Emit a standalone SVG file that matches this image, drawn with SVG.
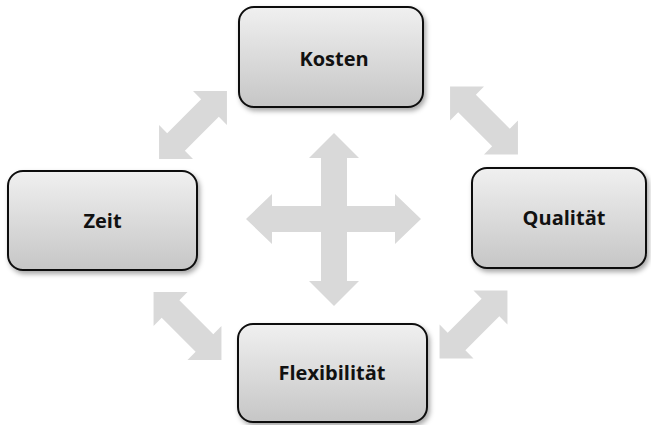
<svg xmlns="http://www.w3.org/2000/svg" width="651" height="425" viewBox="0 0 651 425">
  <style>
    .arrow { fill: #d9d9d9; }
    .box { fill: url(#boxFill); stroke: #111; stroke-width: 2; filter: url(#shadow); }
    .label { font-family: "Open Sans", "Liberation Sans", sans-serif; font-weight: 700; font-size: 20px; fill: #111; text-anchor: middle; }
  </style>
  <defs>
    <linearGradient id="boxFill" x1="0" y1="0" x2="0" y2="1">
      <stop offset="0" stop-color="#f0f0f0"/>
      <stop offset="1" stop-color="#c6c6c6"/>
    </linearGradient>
    <filter id="shadow" x="-10%" y="-10%" width="125%" height="130%">
      <feDropShadow dx="2" dy="3" stdDeviation="2.5" flood-color="#000" flood-opacity="0.35"/>
    </filter>
    <!-- double-headed block arrow, drawn along the x axis -->
    <path id="dblArrow" d="M-48,0 L-24,-24 L-24,-12.5 L24,-12.5 L24,-24 L48,0 L24,24 L24,12.5 L-24,12.5 L-24,24 Z"/>
  </defs>

  <g id="connectors">
    <!-- four-way cross in the middle -->
    <path class="arrow" d="M334,133 L359,158 L347,158 L347,206 L395,206 L395,194 L421,219 L395,244 L395,232 L347,232 L347,281 L359,281 L334,306 L309,281 L321,281 L321,232 L272,232 L272,244 L246,219 L272,194 L272,206 L321,206 L321,158 L309,158 Z"/>
    <!-- diagonal links between neighbouring boxes -->
    <use href="#dblArrow" class="arrow" transform="translate(193,125) rotate(-45)"/>
    <use href="#dblArrow" class="arrow" transform="translate(484,120.5) rotate(45)"/>
    <use href="#dblArrow" class="arrow" transform="translate(187.5,326) rotate(45)"/>
    <use href="#dblArrow" class="arrow" transform="translate(473.5,324.5) rotate(-45)"/>
  </g>

  <g id="kosten">
    <rect class="box" x="239" y="7" width="184" height="100" rx="15"/>
    <text class="label" x="334" y="66">Kosten</text>
  </g>
  <g id="zeit">
    <rect class="box" x="8" y="171" width="189" height="99" rx="15"/>
    <text class="label" x="102.5" y="228">Zeit</text>
  </g>
  <g id="qualitaet">
    <rect class="box" x="472" y="168" width="174" height="100" rx="15"/>
    <text class="label" x="564" y="225">Qualität</text>
  </g>
  <g id="flexibilitaet">
    <rect class="box" x="238" y="324" width="189" height="98" rx="15"/>
    <text class="label" x="332" y="380">Flexibilität</text>
  </g>
</svg>
